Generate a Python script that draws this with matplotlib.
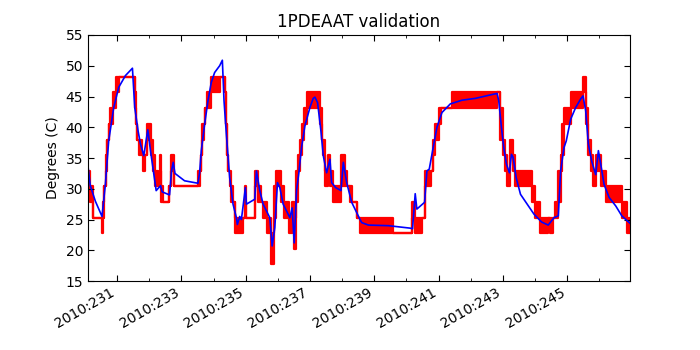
import matplotlib
matplotlib.use("Agg")
import matplotlib.pyplot as plt
from matplotlib.ticker import MultipleLocator, FuncFormatter

# model prediction (day of 2010, degC)
model_day = [230.095, 230.168, 230.324, 230.532, 230.636, 230.74, 230.896, 231.052, 231.26, 231.478,
             231.55, 231.654, 231.727, 231.831, 231.956, 232.039, 232.216, 232.351, 232.403, 232.632,
             232.694, 232.746, 232.80, 233.099, 233.515, 233.567, 233.619, 233.723, 233.827, 233.93,
             234.034, 234.19, 234.274, 234.326, 234.398, 234.502, 234.606, 234.71, 234.741, 234.814,
             234.866, 234.991, 235.022, 235.282, 235.334, 235.438, 235.542, 235.749, 235.822, 235.905,
             235.988, 236.061, 236.165, 236.373, 236.445, 236.508, 236.581, 236.653, 236.736, 236.84,
             236.996, 237.1, 237.152, 237.235, 237.339, 237.412, 237.516, 237.62, 237.672, 237.797,
             237.963, 238.036, 238.14, 238.296, 238.556, 238.608, 238.816, 239.44, 240.115, 240.188,
             240.271, 240.323, 240.562, 240.635, 240.708, 240.812, 240.947, 241.103, 241.363, 241.726,
             242.142, 242.557, 242.817, 242.869, 242.952, 243.025, 243.108, 243.202, 243.264, 243.316,
             243.41, 243.545, 243.753, 243.961, 244.2, 244.408, 244.585, 244.72, 244.793, 244.897,
             244.969, 245.104, 245.26, 245.416, 245.489, 245.572, 245.655, 245.759, 245.884, 245.967,
             246.04, 246.144, 246.3, 246.508, 246.695, 246.82, 246.95]
model_temp = [33.7, 30.5, 28.0, 25.5, 30.7, 37.8, 43.2, 46.5, 48.4, 49.6,
              43.2, 39.4, 37.3, 35.4, 39.6, 36.2, 29.7, 30.5, 29.5, 29.0,
              32.9, 34.3, 32.5, 31.3, 30.9, 32.6, 36.2, 40.5, 44.3, 47.3,
              48.9, 50.0, 50.9, 44.3, 38.9, 31.8, 27.5, 25.3, 24.2, 25.5,
              25.0, 30.2, 27.5, 28.3, 32.9, 29.7, 27.5, 25.3, 20.7, 23.7,
              31.0, 30.2, 27.5, 25.3, 26.9, 21.2, 29.7, 32.6, 36.7, 40.2,
              43.2, 44.7, 44.9, 44.0, 39.4, 35.4, 32.6, 34.8, 31.0, 30.2,
              29.7, 34.3, 31.0, 27.8, 25.0, 24.5, 24.1, 24.0, 23.6, 23.5,
              29.2, 26.7, 27.8, 32.9, 33.2, 36.2, 40.0, 42.4, 43.8, 44.4,
              44.7, 45.2, 45.5, 44.3, 40.0, 36.7, 34.0, 32.6, 35.6, 35.1,
              31.8, 29.1, 27.5, 25.9, 24.6, 24.1, 25.3, 25.6, 32.9, 36.7,
              37.8, 41.3, 43.2, 44.6, 45.1, 42.7, 37.3, 34.5, 32.3, 36.2,
              34.0, 30.7, 28.6, 27.2, 25.6, 25.0, 24.4]

# telemetry: start of each step, and the low/high quantized levels it toggles between
tlm_day = [230.095, 230.17, 230.24, 230.53, 230.56, 230.60, 230.65, 230.70, 230.74, 230.79,
           230.86, 230.97, 231.05, 231.55, 231.59, 231.62, 231.67, 231.76, 231.80, 231.88,
           231.93, 232.04, 232.12, 232.19, 232.28, 232.32, 232.36, 232.42, 232.63, 232.69,
           232.77, 233.515, 233.567, 233.598, 233.64, 233.702, 233.743, 233.806, 233.91, 234.19,
           234.346, 234.378, 234.419, 234.45, 234.502, 234.554, 234.606, 234.658, 234.918, 234.97,
           235.022, 235.282, 235.386, 235.469, 235.542, 235.65, 235.80, 235.884, 235.957, 236.092,
           236.196, 236.341, 236.425, 236.497, 236.549, 236.633, 236.685, 236.757, 236.82, 236.892,
           236.996, 237.308, 237.36, 237.412, 237.464, 237.547, 237.62, 237.724, 237.963, 238.088,
           238.16, 238.244, 238.316, 238.452, 238.556, 239.595, 240.167, 240.25, 240.323, 240.479,
           240.583, 240.77, 240.812, 240.895, 240.999, 241.082, 241.414, 242.817, 242.921, 242.994,
           243.077, 243.139, 243.233, 243.316, 243.389, 243.888, 243.992, 244.138, 244.408, 244.46,
           244.554, 244.616, 244.72, 244.793, 244.845, 244.897, 245.0, 245.105, 245.209, 245.489,
           245.572, 245.655, 245.728, 245.801, 245.905, 246.04, 246.217, 246.695, 246.872, 246.95]
tlm_lo = [30.4, 27.8, 25.3, 22.8, 25.3, 30.4, 32.9, 38.0, 40.6, 40.6,
          43.1, 45.7, 48.2, 43.1, 40.6, 38.0, 35.5, 35.5, 32.9, 35.5,
          38.0, 35.5, 32.9, 30.4, 30.4, 32.9, 27.8, 27.8, 30.4, 32.9,
          30.4, 30.4, 32.9, 35.5, 38.0, 40.6, 43.1, 43.1, 45.7, 48.2,
          45.7, 40.6, 35.5, 32.9, 30.4, 27.8, 27.8, 22.8, 25.3, 27.8,
          25.3, 30.4, 27.8, 27.8, 25.3, 22.8, 17.7, 25.3, 30.4, 27.8,
          25.3, 22.8, 25.3, 20.2, 27.8, 32.9, 35.5, 38.0, 40.6, 43.1,
          43.1, 40.6, 38.0, 35.5, 30.4, 32.9, 30.4, 27.8, 30.4, 30.4,
          30.4, 27.8, 27.8, 25.3, 22.8, 22.8, 25.3, 22.8, 22.8, 25.3,
          30.4, 32.9, 35.5, 38.0, 40.6, 43.1, 43.1, 45.7, 38.0, 35.5,
          32.9, 30.4, 35.5, 32.9, 30.4, 27.8, 25.3, 22.8, 25.3, 22.8,
          25.3, 25.3, 27.8, 32.9, 35.5, 40.6, 40.6, 43.1, 43.1, 45.7,
          40.6, 35.5, 32.9, 30.4, 32.9, 30.4, 27.8, 25.3, 22.8, 22.8]
tlm_hi = [32.9, 30.4, 25.3, 25.3, 27.8, 30.4, 35.5, 38.0, 40.6, 43.1,
          45.7, 48.2, 48.2, 45.7, 40.6, 38.0, 38.0, 35.5, 35.5, 35.5,
          40.6, 38.0, 35.5, 32.9, 30.4, 35.5, 30.4, 27.8, 30.4, 35.5,
          30.4, 32.9, 32.9, 35.5, 40.6, 40.6, 43.1, 45.7, 48.2, 48.2,
          45.7, 40.6, 35.5, 32.9, 32.9, 30.4, 27.8, 25.3, 25.3, 30.4,
          25.3, 32.9, 30.4, 27.8, 27.8, 25.3, 22.8, 30.4, 32.9, 30.4,
          27.8, 25.3, 27.8, 25.3, 32.9, 35.5, 38.0, 40.6, 43.1, 45.7,
          45.7, 43.1, 38.0, 38.0, 32.9, 35.5, 32.9, 30.4, 35.5, 32.9,
          30.4, 30.4, 27.8, 25.3, 25.3, 22.8, 27.8, 25.3, 25.3, 25.3,
          32.9, 32.9, 38.0, 40.6, 43.1, 43.1, 45.7, 45.7, 43.1, 38.0,
          35.5, 32.9, 38.0, 35.5, 32.9, 30.4, 27.8, 25.3, 25.3, 25.3,
          25.3, 27.8, 32.9, 35.5, 40.6, 43.1, 43.1, 45.7, 45.7, 48.2,
          43.1, 38.0, 35.5, 32.9, 35.5, 32.9, 30.4, 27.8, 25.3, 25.3]

fig = plt.figure(figsize=(7, 3.5), dpi=100)
ax = fig.add_axes([0.1257, 0.197, 0.7743, 0.703])

ax.fill_between(tlm_day, tlm_lo, tlm_hi, step='post', color='red',
                edgecolor='red', linewidth=1.6)
ax.plot(model_day, model_temp, color='blue', linewidth=1.2)

ax.set_xlim(230.096, 246.95)
ax.set_ylim(15, 55)
ax.set_title('1PDEAAT validation', fontsize=12)
ax.set_ylabel('Degrees (C)', fontsize=10)

# major ticks on odd days: 231, 233, ...
ax.xaxis.set_major_locator(MultipleLocator(2, offset=1))
ax.xaxis.set_minor_locator(MultipleLocator(1))
ax.yaxis.set_major_locator(MultipleLocator(5))
ax.xaxis.set_major_formatter(FuncFormatter(lambda x, pos: "2010:%03d" % int(round(x))))
ax.tick_params(which='both', direction='in', top=True, right=True, labelsize=10)
ax.tick_params(which='major', length=4)
ax.tick_params(which='minor', length=2)
for lbl in ax.get_xticklabels():
    lbl.set_rotation(30)
    lbl.set_ha('right')

fig.savefig("out.png")
